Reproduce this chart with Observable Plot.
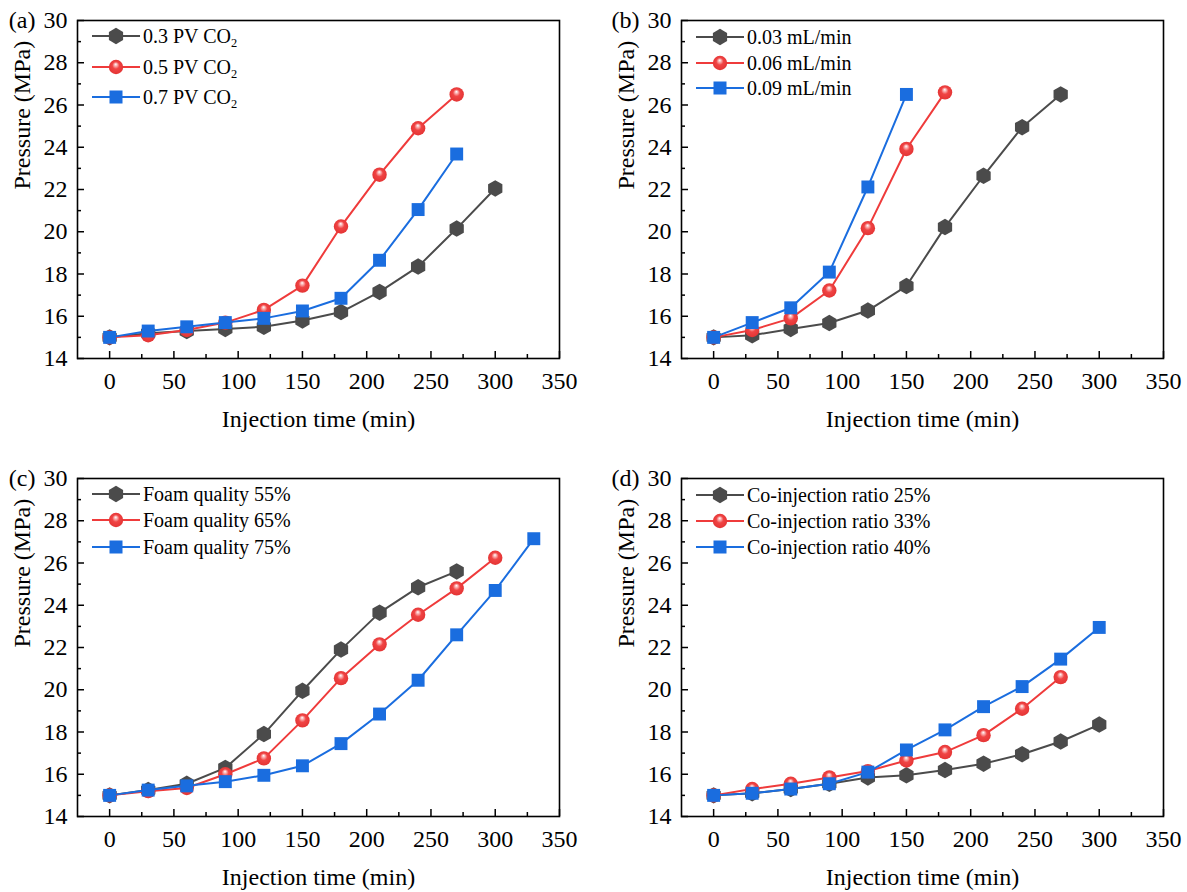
<!DOCTYPE html>
<html><head><meta charset="utf-8">
<script src="https://cdn.jsdelivr.net/npm/d3@7"></script>
<script src="https://cdn.jsdelivr.net/npm/@observablehq/plot@0.6"></script>
<style>
body{margin:0;background:#fff;overflow:hidden;}
#root{position:relative;width:1187px;height:892px;font-family:"Liberation Serif",serif;}
.panel{position:absolute;width:583px;height:446px;}
.panel svg text{font-family:"Liberation Serif",serif !important;}
.row{position:absolute;display:flex;align-items:center;white-space:nowrap;font-size:20px;line-height:20px;color:#000;}
.row svg{display:block;margin-right:3px;}
.row sub{font-size:0.62em;vertical-align:-0.35em;line-height:0;}
</style></head><body>
<svg width="0" height="0" style="position:absolute">
  <defs>
    <radialGradient id="redball" cx="0.5" cy="0.5" r="0.55" fx="0.48" fy="0.3">
      <stop offset="0" stop-color="#ffffff"/>
      <stop offset="0.18" stop-color="#fbb4b4"/>
      <stop offset="0.45" stop-color="#f04444"/>
      <stop offset="1" stop-color="#e23232"/>
    </radialGradient>
  </defs>
</svg>
<div id="root"></div>
<script>
// ---------- data ----------
const time = [0, 30, 60, 90, 120, 150, 180, 210, 240, 270, 300, 330];
const panelTags = ["(a)", "(b)", "(c)", "(d)"];
const xLabel = "Injection time (min)";
const yLabel = "Pressure (MPa)";
const xTicks = [0, 50, 100, 150, 200, 250, 300, 350];
const xMinor = [25, 75, 125, 175, 225, 275, 325];
const yTicks = [14, 16, 18, 20, 22, 24, 26, 28, 30];
const yMinor = [15, 17, 19, 21, 23, 25, 27, 29];

// panel (a)
const namesA = ["0.3 PV CO2", "0.5 PV CO2", "0.7 PV CO2"];
const a1 = [15.0, 15.2, 15.3, 15.4, 15.5, 15.8, 16.2, 17.15, 18.35, 20.15, 22.05];
const a2 = [15.0, 15.1, 15.35, 15.7, 16.3, 17.45, 20.25, 22.7, 24.9, 26.5];
const a3 = [15.0, 15.3, 15.5, 15.7, 15.9, 16.25, 16.85, 18.65, 21.05, 23.68];
// panel (b)
const namesB = ["0.03 mL/min", "0.06 mL/min", "0.09 mL/min"];
const b1 = [15.0, 15.1, 15.4, 15.68, 16.27, 17.43, 20.22, 22.65, 24.95, 26.5];
const b2 = [15.0, 15.35, 15.9, 17.22, 20.17, 23.92, 26.6];
const b3 = [15.0, 15.7, 16.4, 18.09, 22.12, 26.5];
// panel (c)
const namesC = ["Foam quality 55%", "Foam quality 65%", "Foam quality 75%"];
const c1 = [15.0, 15.25, 15.55, 16.3, 17.9, 19.95, 21.9, 23.65, 24.85, 25.6];
const c2 = [15.0, 15.2, 15.35, 16.0, 16.75, 18.55, 20.55, 22.15, 23.55, 24.8, 26.25];
const c3 = [15.0, 15.25, 15.45, 15.65, 15.95, 16.4, 17.45, 18.85, 20.45, 22.6, 24.7, 27.15];
// panel (d)
const namesD = ["Co-injection ratio 25%", "Co-injection ratio 33%", "Co-injection ratio 40%"];
const d1 = [15.0, 15.1, 15.3, 15.55, 15.85, 15.95, 16.2, 16.5, 16.95, 17.55, 18.35];
const d2 = [15.0, 15.3, 15.55, 15.85, 16.15, 16.65, 17.05, 17.85, 19.1, 20.6];
const d3 = [15.0, 15.1, 15.3, 15.55, 16.1, 17.15, 18.1, 19.2, 20.15, 21.45, 22.95];

const seriesColors = ["#4b4b4b", "#ef3b3b", "#1a6ddf"];

// ---------- layout ----------
const panels = [
  {tag: panelTags[0], names: namesA, values: [a1, a2, a3], left: 0, top: 0, rowGap: 30.5, rowTop: 36},
  {tag: panelTags[1], names: namesB, values: [b1, b2, b3], left: 604, top: 0, rowGap: 25.5, rowTop: 37},
  {tag: panelTags[2], names: namesC, values: [c1, c2, c3], left: 0, top: 458, rowGap: 26.5, rowTop: 35.5},
  {tag: panelTags[3], names: namesD, values: [d1, d2, d3], left: 604, top: 458, rowGap: 26, rowTop: 37}
];

const FONT = '"Liberation Serif",serif';
const M = {left: 77, right: 24, top: 20, bottom: 88};

// pointy-top hexagon symbol
const hexagon = {
  draw(context, size) {
    const R = Math.sqrt(size / (1.5 * Math.sqrt(3)));
    for (let i = 0; i < 6; i++) {
      const a = (-90 + 60 * i) * Math.PI / 180;
      const x = R * Math.cos(a), y = R * Math.sin(a);
      if (i === 0) context.moveTo(x, y); else context.lineTo(x, y);
    }
    context.closePath();
  }
};

function seriesMarks(vals, k) {
  const rows = vals.map((v, i) => ({t: time[i], p: v}));
  const color = seriesColors[k];
  const line = Plot.line(rows, {x: "t", y: "p", stroke: color, strokeWidth: 2});
  let dot;
  if (k === 0) dot = Plot.dot(rows, {x: "t", y: "p", symbol: hexagon, r: 7.5, fill: color, stroke: "none"});
  else if (k === 1) dot = Plot.dot(rows, {x: "t", y: "p", symbol: "circle", r: 7.2, fill: "url(#redball)", stroke: "none"});
  else dot = Plot.dot(rows, {x: "t", y: "p", symbol: "square", r: 7.3, fill: color, stroke: "none"});
  return [line, dot];
}

function swatch(k) {
  const ns = "http://www.w3.org/2000/svg";
  const color = seriesColors[k];
  let shape;
  if (k === 0) {
    const R = 8.2, pts = [];
    for (let i = 0; i < 6; i++) {
      const a = (-90 + 60 * i) * Math.PI / 180;
      pts.push((24 + R * Math.cos(a)).toFixed(2) + "," + (10 + R * Math.sin(a)).toFixed(2));
    }
    shape = `<polygon points="${pts.join(" ")}" fill="${color}"/>`;
  } else if (k === 1) {
    shape = `<circle cx="24" cy="10" r="7.2" fill="url(#redball)"/>`;
  } else {
    shape = `<rect x="17.5" y="3.5" width="13" height="13" fill="${color}"/>`;
  }
  return `<svg xmlns="${ns}" width="48" height="20" viewBox="0 0 48 20"><line x1="0" x2="48" y1="10" y2="10" stroke="${color}" stroke-width="2"/>${shape}</svg>`;
}

const root = document.getElementById("root");
panels.forEach(p => {
  const div = document.createElement("div");
  div.className = "panel";
  div.style.left = p.left + "px";
  div.style.top = p.top + "px";
  const marks = [];
  p.values.forEach((v, k) => marks.push(...seriesMarks(v, k)));
  const chart = Plot.plot({
    width: 583, height: 446,
    marginLeft: M.left, marginRight: M.right, marginTop: M.top, marginBottom: M.bottom,
    x: {domain: [-25, 350]},
    y: {domain: [14, 30]},
    style: {fontFamily: FONT, fontSize: "24px", color: "#000", background: "transparent", overflow: "visible"},
    marks: [
      ...marks,
      Plot.frame({stroke: "#000", strokeWidth: 1.6}),
      // inward ticks
      Plot.axisX(xTicks, {tickSize: 7, dy: -7, fill: "none", label: null, strokeWidth: 1.5}),
      Plot.axisX(xMinor, {tickSize: 4, dy: -4, fill: "none", label: null, strokeWidth: 1.5}),
      Plot.axisY(yTicks, {tickSize: 7, dx: 7, fill: "none", label: null, strokeWidth: 1.5}),
      Plot.axisY(yMinor, {tickSize: 4, dx: 4, fill: "none", label: null, strokeWidth: 1.5}),
      // tick labels
      Plot.axisX(xTicks, {tickSize: 0, tickPadding: 13, label: null, fontSize: 24, fontFamily: FONT}),
      Plot.axisY(yTicks, {tickSize: 0, tickPadding: 10, label: null, fontSize: 24, fontFamily: FONT}),
      // titles
      Plot.text([xLabel], {text: d => d, frameAnchor: "bottom", dy: 68, fontSize: 24, fontFamily: FONT}),
      Plot.text([yLabel], {text: d => d, frameAnchor: "left", rotate: -90, dx: -55, fontSize: 24, fontFamily: FONT}),
      Plot.text([p.tag], {text: d => d, frameAnchor: "top-left", lineAnchor: "middle", dx: -42, textAnchor: "end", fontSize: 24, fontFamily: FONT})
    ]
  });
  div.appendChild(chart);
  // legend
  p.names.forEach((name, k) => {
    const row = document.createElement("div");
    row.className = "row";
    row.style.left = (M.left + 15) + "px";
    row.style.top = (p.rowTop + k * p.rowGap - 10) + "px";
    const label = name.replace(/CO2$/, "CO<sub>2</sub>");
    row.innerHTML = swatch(k) + `<span>${label}</span>`;
    div.appendChild(row);
  });
  root.appendChild(div);
});
</script>
</body></html>
